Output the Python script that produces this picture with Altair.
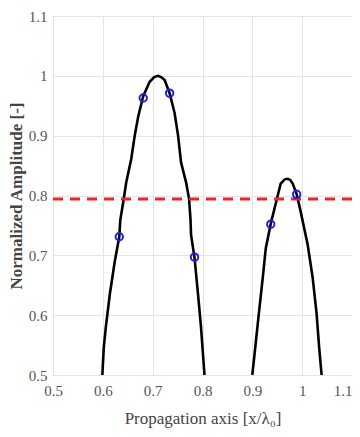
import altair as alt
import pandas as pd

# Curve segment 1 (main peak)
seg1_x = [0.599, 0.602, 0.606, 0.614, 0.624, 0.633, 0.635, 0.641, 0.647, 0.657,
          0.664, 0.671, 0.681, 0.694, 0.703, 0.711, 0.717, 0.724, 0.734, 0.744,
          0.751, 0.757, 0.767, 0.773, 0.776, 0.777, 0.784, 0.791, 0.797, 0.804]
seg1_y = [0.500, 0.547, 0.580, 0.635, 0.690, 0.731, 0.759, 0.789, 0.822, 0.861,
          0.900, 0.932, 0.966, 0.990, 0.998, 1.000, 0.998, 0.993, 0.971, 0.938,
          0.900, 0.855, 0.822, 0.795, 0.759, 0.734, 0.696, 0.635, 0.580, 0.500]
# Curve segment 2 (secondary peak)
seg2_x = [0.900, 0.906, 0.913, 0.921, 0.927, 0.937, 0.951, 0.957, 0.965, 0.971,
          0.976, 0.981, 0.989, 0.997, 1.011, 1.021, 1.029, 1.034, 1.039]
seg2_y = [0.500, 0.547, 0.602, 0.663, 0.712, 0.753, 0.800, 0.820, 0.827, 0.828,
          0.826, 0.820, 0.802, 0.773, 0.718, 0.663, 0.602, 0.547, 0.500]

# Marker points
mark_x = [0.633, 0.681, 0.734, 0.784, 0.937, 0.989]
mark_y = [0.731, 0.963, 0.971, 0.697, 0.752, 0.802]

threshold = [0.794]

x_ticks = [0.5, 0.6, 0.7, 0.8, 0.9, 1.0, 1.1]
y_ticks = [0.5, 0.6, 0.7, 0.8, 0.9, 1.0, 1.1]

rows = []
for i, (a, b) in enumerate(zip(seg1_x, seg1_y)):
    rows.append({"x": a, "y": b, "seg": "s1", "i": i})
for i, (a, b) in enumerate(zip(seg2_x, seg2_y)):
    rows.append({"x": a, "y": b, "seg": "s2", "i": i})
curve_df = pd.DataFrame(rows)
mark_df = pd.DataFrame({"x": mark_x, "y": mark_y})
thr_df = pd.DataFrame({"y": threshold})

font = "Liberation Serif"

xscale = alt.Scale(domain=[0.5, 1.1], nice=False, zero=False)
yscale = alt.Scale(domain=[0.5, 1.1], nice=False, zero=False)

xaxis = alt.Axis(values=x_ticks, title="Propagation axis [x/λ₀]",
                 labelExpr="datum.value == 1 ? '1' : format(datum.value, '.1f')",
                 grid=True, gridColor="#e4e4e4", ticks=False, domain=False,
                 labelFlush=False, labelOverlap=False,
                 labelAlign={"condition": {"test": "datum.value >= 1.09", "value": "right"},
                             "value": "center"},
                 labelFont=font, labelFontSize=15, labelColor="#555555", labelPadding=8,
                 titleFont=font, titleFontSize=17, titleFontWeight="normal",
                 titleColor="#444444", titlePadding=12)
yaxis = alt.Axis(values=y_ticks, title="Normalized Amplitude [-]",
                 labelExpr="datum.value == 1 ? '1' : format(datum.value, '.1f')",
                 grid=True, gridColor="#e4e4e4", ticks=False, domain=False,
                 labelFlush=False, labelOverlap=False,
                 labelFont=font, labelFontSize=15, labelColor="#555555", labelPadding=6,
                 titleFont=font, titleFontSize=17, titleFontWeight="bold",
                 titleColor="#444444", titlePadding=3)

curve = alt.Chart(curve_df).mark_line(color="black", strokeWidth=2.6, clip=True).encode(
    x=alt.X("x:Q", scale=xscale, axis=xaxis),
    y=alt.Y("y:Q", scale=yscale, axis=yaxis),
    detail="seg:N",
    order="i:Q",
)

rule = alt.Chart(thr_df).mark_rule(color="#e8262a", strokeWidth=3, strokeDash=[10, 7]).encode(
    y=alt.Y("y:Q", scale=yscale)
)

points = alt.Chart(mark_df).mark_point(shape="circle", filled=False, color="#1f1fe6",
                                       size=55, strokeWidth=2, opacity=1).encode(
    x=alt.X("x:Q", scale=xscale),
    y=alt.Y("y:Q", scale=yscale),
)

chart = alt.layer(curve, rule, points).properties(
    width=299, height=359,
    autosize=alt.AutoSizeParams(type="none"),
    padding={"left": 45, "top": 8, "right": 0, "bottom": 60},
    background="white",
).configure_view(stroke="#555555", strokeWidth=1)

chart.save("out.html", embed_options={"renderer": "svg", "actions": False})
